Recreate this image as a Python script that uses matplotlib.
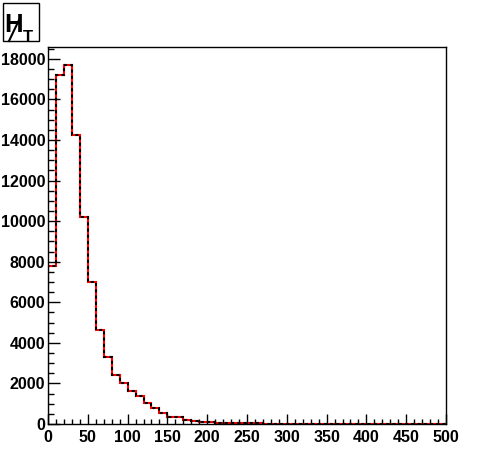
import matplotlib
matplotlib.use("Agg")
import matplotlib.pyplot as plt
from matplotlib.ticker import MultipleLocator
from matplotlib.lines import Line2D
import numpy as np

plt.rcParams['font.family'] = ['Liberation Sans', 'DejaVu Sans']

# bin edges 0..500 in steps of 10 (MHT)
edges = np.arange(0, 510, 10)
counts = [7800, 17200, 17700, 14250, 10200, 7000, 4620, 3290, 2400, 2000,
          1620, 1370, 1040, 780, 560, 350, 330, 180, 170, 120,
          90, 70, 50, 60, 35, 30, 25, 20, 15, 12,
          10, 8, 7, 6, 5, 4, 4, 3, 3, 2,
          2, 2, 1, 1, 1, 1, 1, 0, 0, 0]

W, H = 496, 472
fig = plt.figure(figsize=(W/100, H/100), dpi=100)
ax = fig.add_axes([48/W, 48/H, 398/W, 377/H])

ax.stairs(counts, edges, color='red', lw=1.5, baseline=0)
ax.stairs(counts, edges, color='black', lw=1.5, baseline=0, linestyle=(0, (1.5, 1.5)))

ax.set_xlim(0, 500)
ax.set_ylim(0, 1.05 * max(counts))
ax.xaxis.set_major_locator(MultipleLocator(50))
ax.xaxis.set_minor_locator(MultipleLocator(10))
ax.yaxis.set_major_locator(MultipleLocator(2000))
ax.yaxis.set_minor_locator(MultipleLocator(500))
ax.tick_params(which='both', direction='in', top=False, right=False, width=1)
ax.tick_params(axis='x', which='major', length=7.5, pad=4)
ax.tick_params(axis='x', which='minor', length=3.8)
ax.tick_params(axis='y', which='major', length=8.5, pad=2)
ax.tick_params(axis='y', which='minor', length=4.3)
for lab in ax.get_xticklabels() + ax.get_yticklabels():
    lab.set_fontsize(11.5)
    lab.set_fontweight('bold')
for s in ax.spines.values():
    s.set_linewidth(1)

# title box: slashed H with subscript T
fig.patches.append(plt.Rectangle((3/W, 1 - 41/H), 36/W, 38/H,
                                 transform=fig.transFigure, fill=False,
                                 edgecolor='black', lw=1))
fig.text(4/W, 1 - 32/H, "H", fontsize=18.5, fontweight='bold', va='baseline')
fig.lines.append(Line2D([9/W, 19/W], [1 - 41/H, 1 - 20/H], transform=fig.transFigure,
                        color='black', lw=1.5))
fig.text(22.5/W, 1 - 30/H, "T", fontsize=12, fontweight='bold', va='top')

fig.savefig("out.png", dpi=100)
